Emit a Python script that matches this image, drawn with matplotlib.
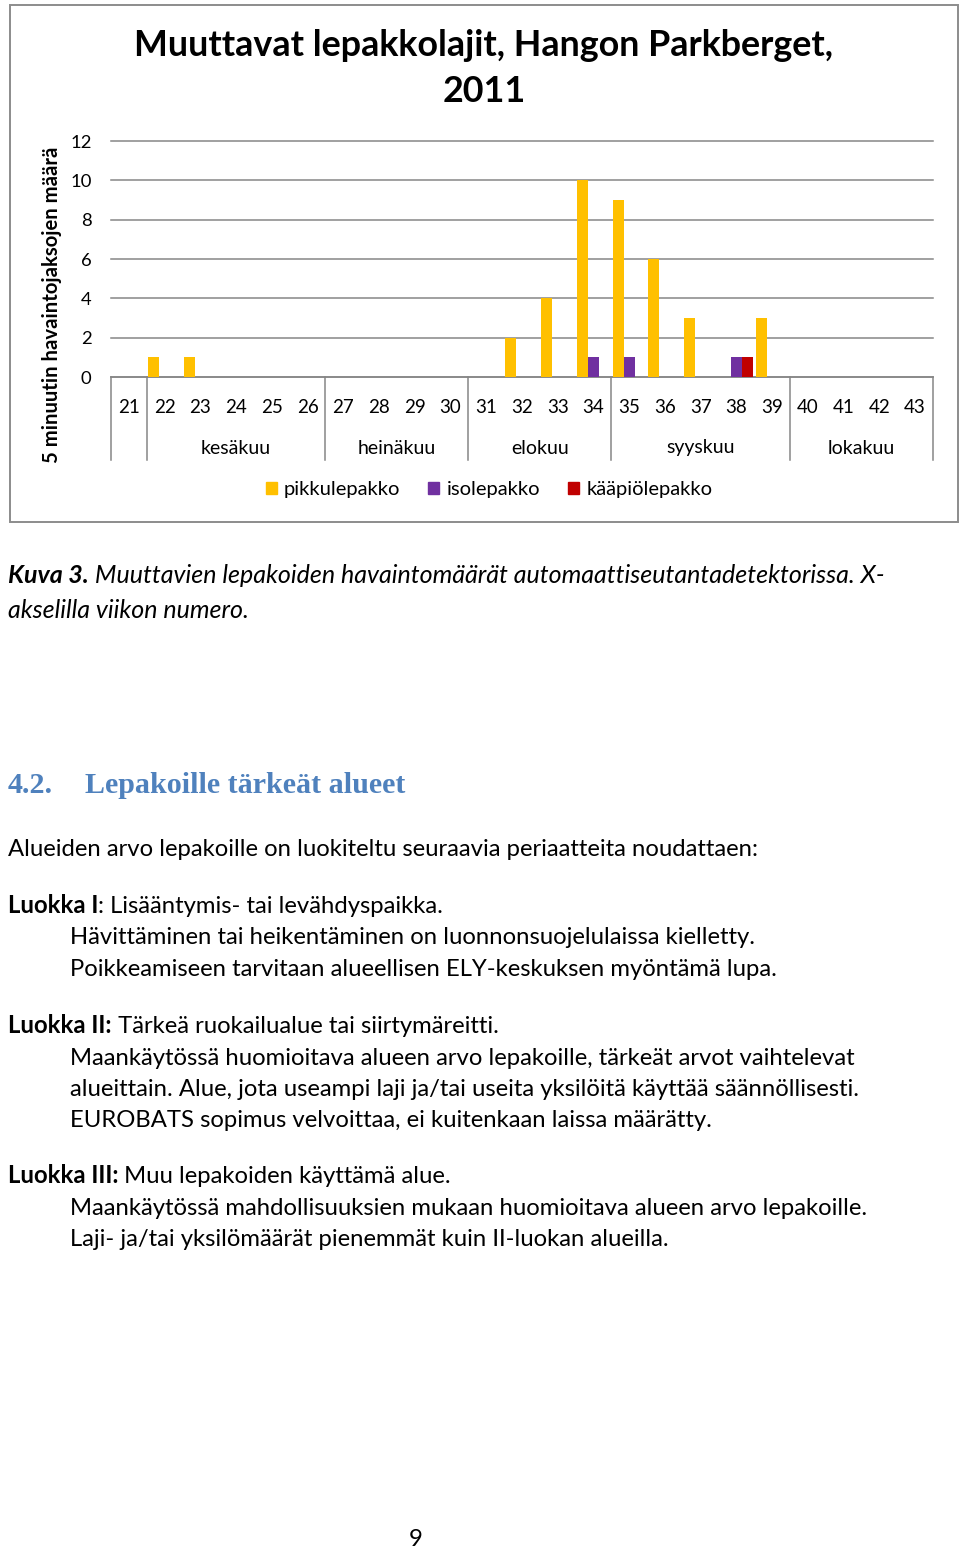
import matplotlib
matplotlib.use('Agg')
import matplotlib.pyplot as plt
import matplotlib.transforms as mtransforms
from matplotlib.patches import Rectangle, Patch

# Week numbers on the x axis
weeks = [21, 22, 23, 24, 25, 26, 27, 28, 29, 30, 31, 32, 33, 34, 35, 36, 37, 38, 39, 40, 41, 42, 43]
# Number of 5-minute observation periods per week
pikkulepakko = [0, 1, 1, 0, 0, 0, 0, 0, 0, 0, 0, 2, 4, 10, 9, 6, 3, 0, 3, 0, 0, 0, 0]
isolepakko = [0, 0, 0, 0, 0, 0, 0, 0, 0, 0, 0, 0, 0, 1, 1, 0, 0, 1, 0, 0, 0, 0, 0]
kaapiolepakko = [0, 0, 0, 0, 0, 0, 0, 0, 0, 0, 0, 0, 0, 0, 0, 0, 0, 1, 0, 0, 0, 0, 0]
series_names = ["pikkulepakko", "isolepakko", "kääpiölepakko"]
series_colors = ["#FFC000", "#7030A0", "#C00000"]
# Months: (label, first week, last week); week 21 has no month label
months = [("", 21, 21), ("kesäkuu", 22, 26), ("heinäkuu", 27, 30),
          ("elokuu", 31, 34), ("syyskuu", 35, 39), ("lokakuu", 40, 43)]
yticks = [0, 2, 4, 6, 8, 10, 12]

title_lines = ["Muuttavat lepakkolajit, Hangon Parkberget,", "2011"]
ylabel = "5 minuutin havaintojaksojen määrä"

W, H = 960, 1548
dpi = 100
font = "Lato"
body_size = 17.2
grid_color = "#868686"

fig = plt.figure(figsize=(W / dpi, H / dpi), dpi=dpi)
fig.patch.set_facecolor("white")


def fx(px):
    return px / W


def fy(py):
    return 1 - py / H


# chart frame
fig.patches.append(Rectangle((fx(10), fy(522)), fx(958) - fx(10), fy(5) - fy(522),
                             transform=fig.transFigure, fill=False,
                             edgecolor="#8c8c8c", linewidth=1.4))

ax = fig.add_axes([fx(111), fy(377), fx(933) - fx(111), fy(141) - fy(377)])
x = list(range(len(weeks)))
bw = 0.31
ax.bar([i - bw for i in x], pikkulepakko, bw, color=series_colors[0], zorder=3)
ax.bar(x, isolepakko, bw, color=series_colors[1], zorder=3)
ax.bar([i + bw for i in x], kaapiolepakko, bw, color=series_colors[2], zorder=3)

ax.set_xlim(-0.5, len(weeks) - 0.5)
ax.set_ylim(0, 12)
ax.set_yticks(yticks)
ax.set_yticklabels([str(v) for v in yticks], fontsize=13.3, family=font)
ax.set_xticks(x)
ax.set_xticklabels([str(w) for w in weeks], fontsize=13.5, family=font)
ax.tick_params(axis="y", length=0, pad=14)
ax.tick_params(axis="x", length=0, pad=15.5)
ax.yaxis.grid(True, color=grid_color, linewidth=1.1, clip_on=False)
ax.set_axisbelow(True)
for s in ["top", "left", "right"]:
    ax.spines[s].set_visible(False)
ax.spines["bottom"].set_color(grid_color)
ax.spines["bottom"].set_linewidth(1.1)

# month category table below the axis
trans = mtransforms.blended_transform_factory(ax.transData, ax.transAxes)
depth = -(460 - 377) / (377 - 141)
for label, w0, w1 in months:
    i0 = weeks.index(w0)
    i1 = weeks.index(w1)
    ax.plot([i0 - 0.5, i0 - 0.5], [0, depth], color=grid_color, lw=1.1,
            transform=trans, clip_on=False)
    if label:
        ax.text((i0 + i1) / 2, -(448 - 377) / (377 - 141), label, transform=trans,
                ha="center", va="center", fontsize=14, family=font)
ax.plot([len(weeks) - 0.5] * 2, [0, depth], color=grid_color, lw=1.1,
        transform=trans, clip_on=False)

fig.text(fx(484), fy(45), title_lines[0], ha="center", va="center", fontsize=25.8,
         fontweight="bold", family=font)
fig.text(fx(484), fy(91), title_lines[1], ha="center", va="center", fontsize=25.8,
         fontweight="bold", family=font)
fig.text(fx(52), fy(305), ylabel, ha="center", va="center", rotation=90,
         fontsize=14.6, fontweight="bold", family=font)

handles = [Patch(color=c, label=n) for c, n in zip(series_colors, series_names)]
ax.legend(handles=handles, ncol=3, loc="center", bbox_to_anchor=(fx(489), fy(490)),
          bbox_transform=fig.transFigure, frameon=False, handlelength=0.55,
          handleheight=0.55, handletextpad=0.35, columnspacing=1.4,
          prop={"family": font, "size": 14.5})

# page text below the chart
renderer = fig.canvas.get_renderer()


def put(x_px, base_px, parts, size=body_size):
    cur = fx(x_px)
    for txt, weight, style in parts:
        t = fig.text(cur, fy(base_px), txt, ha="left", va="baseline", fontsize=size,
                     fontweight=weight, fontstyle=style, family=font)
        bb = t.get_window_extent(renderer=renderer)
        cur += bb.width / W


put(8, 583, [("Kuva 3.", "bold", "italic"),
             (" Muuttavien lepakoiden havaintomäärät automaattiseutantadetektorissa. X-", "normal", "italic")],
    size=18)
put(8, 618, [("akselilla viikon numero.", "normal", "italic")], size=18)

heading_color = "#4F81BD"
fig.text(fx(8), fy(793), "4.2.", ha="left", va="baseline", fontsize=21.6,
         fontweight="bold", family="Liberation Serif", color=heading_color)
fig.text(fx(85), fy(793), "Lepakoille tärkeät alueet", ha="left", va="baseline",
         fontsize=21.6, fontweight="bold", family="Liberation Serif", color=heading_color)

put(8, 856, [("Alueiden arvo lepakoille on luokiteltu seuraavia periaatteita noudattaen:", "normal", "normal")])

put(8, 913, [("Luokka I", "bold", "normal"), (": Lisääntymis- tai levähdyspaikka.", "normal", "normal")])
put(70, 944, [("Hävittäminen tai heikentäminen on luonnonsuojelulaissa kielletty.", "normal", "normal")])
put(70, 976, [("Poikkeamiseen tarvitaan alueellisen ELY-keskuksen myöntämä lupa.", "normal", "normal")])

put(8, 1033, [("Luokka II:", "bold", "normal"), (" Tärkeä ruokailualue tai siirtymäreitti.", "normal", "normal")])
put(70, 1065, [("Maankäytössä huomioitava alueen arvo lepakoille, tärkeät arvot vaihtelevat", "normal", "normal")])
put(70, 1096, [("alueittain. Alue, jota useampi laji ja/tai useita yksilöitä käyttää säännöllisesti.", "normal", "normal")])
put(70, 1127, [("EUROBATS sopimus velvoittaa, ei kuitenkaan laissa määrätty.", "normal", "normal")])

put(8, 1183, [("Luokka III:", "bold", "normal"), (" Muu lepakoiden käyttämä alue.", "normal", "normal")])
put(70, 1215, [("Maankäytössä mahdollisuuksien mukaan huomioitava alueen arvo lepakoille.", "normal", "normal")])
put(70, 1246, [("Laji- ja/tai yksilömäärät pienemmät kuin II-luokan alueilla.", "normal", "normal")])

fig.text(fx(416), fy(1546), "9", ha="center", va="baseline", fontsize=body_size, family=font)

fig.savefig("out.png", dpi=dpi, facecolor="white")
